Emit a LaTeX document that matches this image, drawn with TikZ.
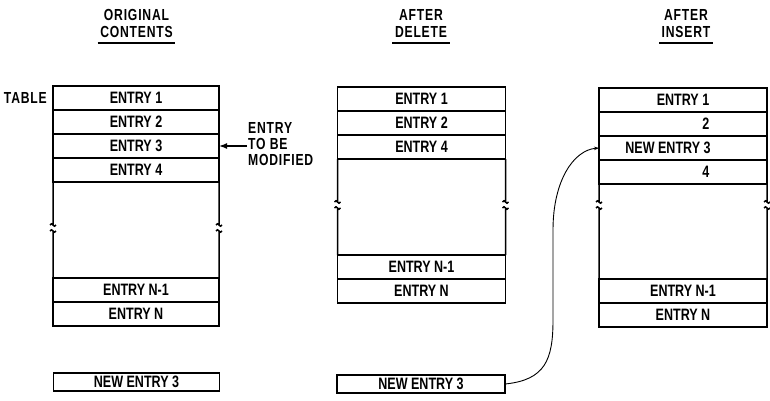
\documentclass[tikz,border=0pt]{standalone}
\usepackage{fontspec}
\setmainfont{Liberation Sans}[FakeStretch=0.76]
\usetikzlibrary{positioning,arrows.meta}

\tikzset{
  frame/.style={line width=1.5pt},
  entry/.style={draw, frame, minimum height=24pt, inner sep=0pt, outer sep=0pt, font=\fontsize{16.5}{17}\bfseries},
  wA/.style={minimum width=166pt},
  wB/.style={minimum width=168pt},
  title/.style={anchor=south, align=center, inner xsep=2.5pt, inner ysep=5.5pt, font=\fontsize{16}{16.5}\bfseries\addfontfeature{LetterSpace=5}},
  uline/.style={line width=1.7pt},
  lbl/.style={inner sep=0pt, font=\fontsize{16}{16}\bfseries\addfontfeature{LetterSpace=5}},
  pointer/.style={line width=1.5pt, -{Latex[length=8pt,width=6pt]}},
  link/.style={line width=0.9pt, -{Stealth[length=5pt,width=3.5pt]}}
}
% side of a table with a break mark at y = #3
\newcommand\brokenside[3]{%
  \draw[frame] (#1) -- (#1 |- 0,#3-3) ++(-3,0) sin ++(1.5,-1.2) cos ++(1.5,1.2) sin ++(1.5,1.2) cos ++(1.5,-1.2);
  \draw[frame] (#2) -- (#2 |- 0,#3+3) ++(-3,0) sin ++(1.5,-1.2) cos ++(1.5,1.2) sin ++(1.5,1.2) cos ++(1.5,-1.2);}

\begin{document}
\begin{tikzpicture}[x=1pt, y=-1pt]
 \useasboundingbox (0,0) rectangle (770,401);
 % titles
 \node[title] (tOrig) at (136.5,43) {ORIGINAL\\CONTENTS};
 \node[title] (tDel) at (421,43) {AFTER\\DELETE};
 \node[title] (tIns) at (686,43) {AFTER\\INSERT};
 \foreach \t in {tOrig,tDel,tIns} \draw[uline] (\t.south west) -- (\t.south east);

 % original contents
 \node[entry, wA, anchor=north] (a1) at (136,86) {ENTRY 1};
 \node[entry, wA, below=0pt of a1] (a2) {ENTRY 2};
 \node[entry, wA, below=0pt of a2] (a3) {ENTRY 3};
 \node[entry, wA, below=0pt of a3] (a4) {ENTRY 4};
 \node[entry, wA, anchor=north] (aN1) at (136,278) {ENTRY N-1};
 \node[entry, wA, below=0pt of aN1] (aN) {ENTRY N};
 \brokenside{a4.south west}{aN1.north west}{228}
 \brokenside{a4.south east}{aN1.north east}{228}
 \node[lbl, left=6pt of a1] (tbl) {TABLE};
 \node[lbl, align=left, anchor=west] (modtxt) at (248,144) {ENTRY\\TO BE\\MODIFIED};
 \draw[pointer] ([xshift=-1pt]modtxt.west |- a3.east) -- (a3.east);
 \node[entry, wA, minimum height=18pt] (aNew) at (136.5,382) {NEW ENTRY 3};

 % after delete
 \node[entry, wB, anchor=north] (b1) at (421.5,87) {ENTRY 1};
 \node[entry, wB, below=0pt of b1] (b2) {ENTRY 2};
 \node[entry, wB, below=0pt of b2] (b3) {ENTRY 4};
 \node[entry, wB, anchor=north] (bN1) at (421.5,255) {ENTRY N-1};
 \node[entry, wB, below=0pt of bN1] (bN) {ENTRY N};
 \brokenside{b3.south west}{bN1.north west}{205}
 \brokenside{b3.south east}{bN1.north east}{205}
 \node[entry, wB, minimum height=18pt] (bNew) at (421,384) {NEW ENTRY 3};

 % after insert
 \node[entry, wB, anchor=north] (c1) at (683,88) {ENTRY 1};
 \node[entry, wB, below=0pt of c1] (c2) {\phantom{ENTRY }2};
 \node[entry, wB, below=0pt of c2] (c3) {NEW ENTRY 3\hspace*{30pt}};
 \node[entry, wB, below=0pt of c3] (c4) {\phantom{ENTRY }4};
 \node[entry, wB, anchor=north] (cN1) at (683,279) {ENTRY N-1};
 \node[entry, wB, below=0pt of cN1] (cN) {ENTRY N};
 \brokenside{c4.south west}{cN1.north west}{205}
 \brokenside{c4.south east}{cN1.north east}{205}

 \draw[link] (bNew.east) .. controls +(40,-4) and +(0,40) .. ++(48,-64)
   -- ++(0,-90) .. controls +(0,-50) and +(-25,2) .. (c3.west);
\end{tikzpicture}
\end{document}
